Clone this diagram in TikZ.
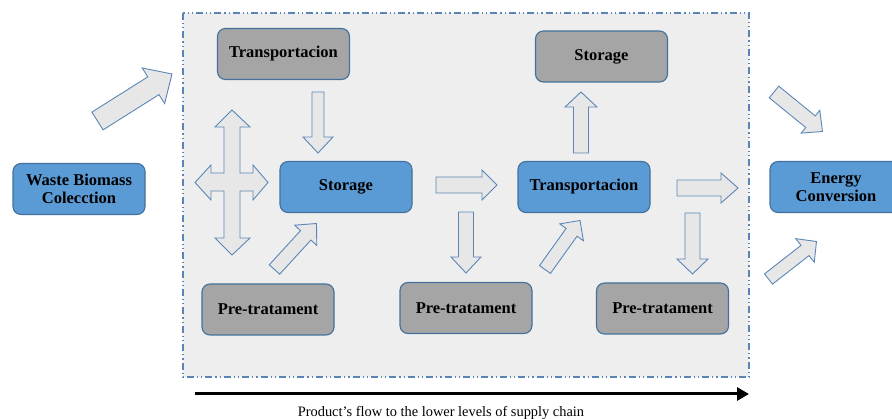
\documentclass[tikz,border=0pt]{standalone}
\usepackage{fontspec}
\setmainfont{Liberation Serif}
\usetikzlibrary{calc,arrows.meta}

\definecolor{boxblue}{HTML}{5B9BD5}
\definecolor{edgeblue}{HTML}{41719C}
\definecolor{boxgray}{HTML}{A5A5A5}
\definecolor{framefill}{HTML}{EEEEEE}
\definecolor{frameedge}{HTML}{5A84B6}
\definecolor{arrowfill}{HTML}{E7E7E7}
\definecolor{arrowedge}{HTML}{5B87B8}

\tikzset{
  stagebox/.style={draw=edgeblue, line width=1.1pt, rounded corners=8pt,
    minimum width=132pt, minimum height=51pt, align=center,
    font=\fontsize{16.5}{18}\selectfont\bfseries, text=black},
  bluebox/.style={stagebox, fill=boxblue},
  graybox/.style={stagebox, fill=boxgray},
  blockarr/.style={draw=arrowedge, fill=arrowfill, line width=0.9pt, line join=miter},
  chainframe/.style={draw=frameedge, fill=framefill, line width=1.1pt,
    dash pattern=on 7pt off 3pt on 1.2pt off 3pt on 1.2pt off 3pt},
  flowline/.style={line width=3pt, -{Triangle[length=12pt,width=13pt]}},
}

% hollow block arrow: tail centre, tip, shaft half-width, head half-width, head length (pt)
\newcommand\blockarrow[5]{%
  \coordinate (hb) at ($(#2)!#5pt!(#1)$);
  \draw[blockarr]
    ($(#1)!#3pt!90:(#2)$) -- ($(hb)!#3pt!90:(#2)$) -- ($(hb)!#4pt!90:(#2)$) --
    (#2) -- ($(hb)!#4pt!-90:(#2)$) -- ($(hb)!#3pt!-90:(#2)$) --
    ($(#1)!#3pt!-90:(#2)$) -- cycle;
}

\begin{document}
\begin{tikzpicture}[x=1pt,y=-1pt]
\useasboundingbox (0,0) rectangle (892,419);
\clip (0,0) rectangle (892,419);

% supply-chain frame
\draw[chainframe] (183,13) rectangle (749,377);

% stages
\node[bluebox] (waste) at (79,189) {Waste Biomass\\Colecction};
\node[graybox] (trA) at (283.5,54) {Transportacion};
\node[bluebox] (stA) at (346,187) {Storage};
\node[graybox] (preA) at (268,309.5) {Pre-tratament};
\node[graybox] (preB) at (466,308) {Pre-tratament};
\node[graybox] (stB) at (601.5,56.5) {Storage};
\node[bluebox] (trB) at (584,187) {Transportacion};
\node[graybox] (preC) at (662.5,308.5) {Pre-tratament};
\node[bluebox] (energy) at (836,187) {Energy\\Conversion};

% arrow end points
\coordinate (a1t) at (97.5,121);   \coordinate (a1h) at (172,74);
\coordinate (a2t) at (318,92);     \coordinate (a2h) at (318,153);
\coordinate (a4t) at (274.5,269.5);\coordinate (a4h) at (316.5,223.5);
\coordinate (a5t) at (436,185);    \coordinate (a5h) at (497,185);
\coordinate (a6t) at (466,212);    \coordinate (a6h) at (466,273);
\coordinate (a7t) at (545,269.5);  \coordinate (a7h) at (580,220.5);
\coordinate (a8t) at (581,153);    \coordinate (a8h) at (581,92);
\coordinate (a9t) at (677,188);    \coordinate (a9h) at (738,188);
\coordinate (a10t) at (692.5,213); \coordinate (a10h) at (692.5,274);
\coordinate (a11t) at (774,92);    \coordinate (a11h) at (822.5,131.5);
\coordinate (a12t) at (768.5,279); \coordinate (a12h) at (816.5,241.5);

\blockarrow{a1t}{a1h}{10.5}{21}{22}
\blockarrow{a2t}{a2h}{6}{15}{16}
\blockarrow{a4t}{a4h}{7}{15}{16}
\blockarrow{a5t}{a5h}{8}{15}{15}
\blockarrow{a6t}{a6h}{7.5}{15}{16}
\blockarrow{a7t}{a7h}{6.7}{14.5}{14.5}
\blockarrow{a8t}{a8h}{7.5}{16}{15}
\blockarrow{a9t}{a9h}{8}{15}{17}
\blockarrow{a10t}{a10h}{7.5}{15.5}{15}
\blockarrow{a11t}{a11h}{7.5}{14.7}{15.5}
\blockarrow{a12t}{a12h}{6.5}{15}{14.6}

% four-way arrow
\draw[blockarr]
  (232,110) -- (250,127) -- (240,127) -- (240,173) -- (253,173) -- (253,165) --
  (268,182.5) -- (253,200) -- (253,191) -- (240,191) -- (240,238) -- (250,238) --
  (232,255) -- (215,238) -- (224,238) -- (224,191) -- (211,191) -- (211,200) --
  (195,182.5) -- (211,165) -- (211,173) -- (224,173) -- (224,127) -- (215,127) -- cycle;

% product flow
\coordinate (flowS) at (195,394);
\coordinate (flowE) at (749,394);
\draw[flowline] (flowS) -- (flowE);
\node[anchor=base, font=\fontsize{14.4}{16}\selectfont] (flowtext) at (441,416.5)
  {Product’s flow to the lower levels of supply chain};
\end{tikzpicture}
\end{document}
